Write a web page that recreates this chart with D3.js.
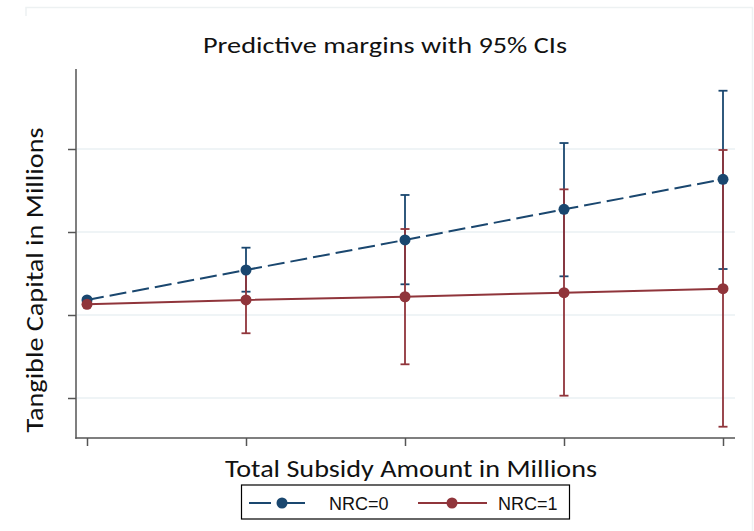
<!DOCTYPE html>
<html>
<head>
<meta charset="utf-8">
<script src="https://cdn.jsdelivr.net/npm/d3@7"></script>
<style>
  html, body { margin: 0; padding: 0; background: #fff; }
  svg { display: block; }
</style>
</head>
<body>
<svg id="chart" width="754" height="531"></svg>
<script>
// ---- data (y units arbitrary, no tick labels shown) ----
const xValues = [0, 1, 2, 3, 4];
const yTicks = [1, 2, 3, 4];
const seriesNames = ["NRC=0", "NRC=1"];
const nrc0Mean  = [2.181, 2.542, 2.904, 3.273, 3.635];
const nrc0Lower = [2.160, 2.281, 2.370, 2.466, 2.554];
const nrc0Upper = [2.200, 2.811, 3.446, 4.072, 4.702];
const nrc1Mean  = [2.129, 2.181, 2.220, 2.269, 2.317];
const nrc1Lower = [2.110, 1.780, 1.406, 1.028, 0.654];
const nrc1Upper = [2.150, 2.540, 3.036, 3.514, 3.988];
const colors = ["#1a476f", "#90353b"];

const series = [
  { name: seriesNames[0], mean: nrc0Mean, lo: nrc0Lower, hi: nrc0Upper, color: colors[0], dash: "17,6" },
  { name: seriesNames[1], mean: nrc1Mean, lo: nrc1Lower, hi: nrc1Upper, color: colors[1], dash: null }
];

const svg = d3.select("#chart");

// faint outer frame
const frame = svg.append("g").attr("stroke", "#edf1f2").attr("stroke-width", 1.5).attr("fill", "none");
frame.append("path").attr("d", "M26,16V7.5H752.5V531");

// scales
const x = d3.scaleLinear().domain([-11 / 159, 4 + 12 / 159]).range([76, 735]);
const y = d3.scaleLinear().domain([1 - 40 / 83, 1 + 329 / 83]).range([438, 69]);

// gridlines
svg.append("g").selectAll("line").data(yTicks).join("line")
  .attr("x1", 77).attr("x2", 735)
  .attr("y1", d => y(d)).attr("y2", d => y(d))
  .attr("stroke", "#eaf1f3").attr("stroke-width", 1.5);

// axes
const yAxis = svg.append("g").attr("transform", "translate(76,0)")
  .call(d3.axisLeft(y).tickValues(yTicks).tickSize(8).tickFormat(""));
const xAxis = svg.append("g").attr("transform", "translate(0,438)")
  .call(d3.axisBottom(x).tickValues(xValues).tickSize(8).tickFormat(""));
[yAxis, xAxis].forEach(a => {
  a.select(".domain").attr("stroke", "#555").attr("stroke-width", 1.5);
  a.selectAll(".tick line").attr("stroke", "#555").attr("stroke-width", 1.5);
});
yAxis.select(".domain").attr("d", `M0,${y.range()[1]}V${y.range()[0] + 0.75}`);
xAxis.select(".domain").attr("d", `M${x.range()[0] - 0.75},0H${x.range()[1]}`);

// error bars (CIs)
const capW = 4.5;
series.forEach(s => {
  const g = svg.append("g").attr("stroke", s.color).attr("stroke-width", 1.8).attr("fill", "none");
  xValues.forEach((xv, i) => {
    const cx = x(xv), yl = y(s.lo[i]), yh = y(s.hi[i]);
    g.append("line").attr("x1", cx).attr("x2", cx).attr("y1", yl).attr("y2", yh);
    g.append("line").attr("x1", cx - capW).attr("x2", cx + capW).attr("y1", yl).attr("y2", yl);
    g.append("line").attr("x1", cx - capW).attr("x2", cx + capW).attr("y1", yh).attr("y2", yh);
  });
});

// lines and markers
const line = d3.line().x((d, i) => x(xValues[i])).y(d => y(d));
series.forEach(s => {
  svg.append("path").datum(s.mean)
    .attr("d", line).attr("fill", "none")
    .attr("stroke", s.color).attr("stroke-width", 2)
    .attr("stroke-dasharray", s.dash);
  svg.append("g").selectAll("circle").data(s.mean).join("circle")
    .attr("cx", (d, i) => x(xValues[i])).attr("cy", d => y(d))
    .attr("r", 5.5).attr("fill", s.color);
});

// title
const fontStack = "Carlito, Lato, 'Open Sans', sans-serif";
svg.append("text").attr("x", 385).attr("y", 53).attr("text-anchor", "middle")
  .attr("font-family", fontStack).attr("font-size", 23).attr("fill", "#111")
  .attr("textLength", 364).attr("lengthAdjust", "spacingAndGlyphs")
  .text("Predictive margins with 95% CIs");

// axis titles
svg.append("text").attr("transform", "translate(43,280) rotate(-90)")
  .attr("text-anchor", "middle")
  .attr("font-family", fontStack).attr("font-size", 25).attr("fill", "#111")
  .attr("textLength", 305).attr("lengthAdjust", "spacingAndGlyphs")
  .text("Tangible Capital in Millions");
svg.append("text").attr("x", 411).attr("y", 477).attr("text-anchor", "middle")
  .attr("font-family", fontStack).attr("font-size", 25).attr("fill", "#111")
  .attr("textLength", 372).attr("lengthAdjust", "spacingAndGlyphs")
  .text("Total Subsidy Amount in Millions");

// legend
const leg = svg.append("g");
leg.append("rect").attr("x", 241.5).attr("y", 485).attr("width", 328).attr("height", 34)
  .attr("fill", "#fff").attr("stroke", "#000").attr("stroke-width", 1.2);
const legItems = [
  { x1: 249, x2: 317, cx: 282, tx: 329 },
  { x1: 418, x2: 487, cx: 452, tx: 498 }
];
series.forEach((s, i) => {
  const it = legItems[i];
  leg.append("line").attr("x1", it.x1).attr("x2", it.x2).attr("y1", 503).attr("y2", 503)
    .attr("stroke", s.color).attr("stroke-width", 2)
    .attr("stroke-dasharray", s.dash ? "22,12" : null);
  leg.append("circle").attr("cx", it.cx).attr("cy", 503).attr("r", 5.5).attr("fill", s.color);
  leg.append("text").attr("x", it.tx).attr("y", 509.5)
    .attr("font-family", "'Liberation Sans', Arial, sans-serif").attr("font-size", 18).attr("fill", "#111")
    .text(s.name);
});
</script>
</body>
</html>
